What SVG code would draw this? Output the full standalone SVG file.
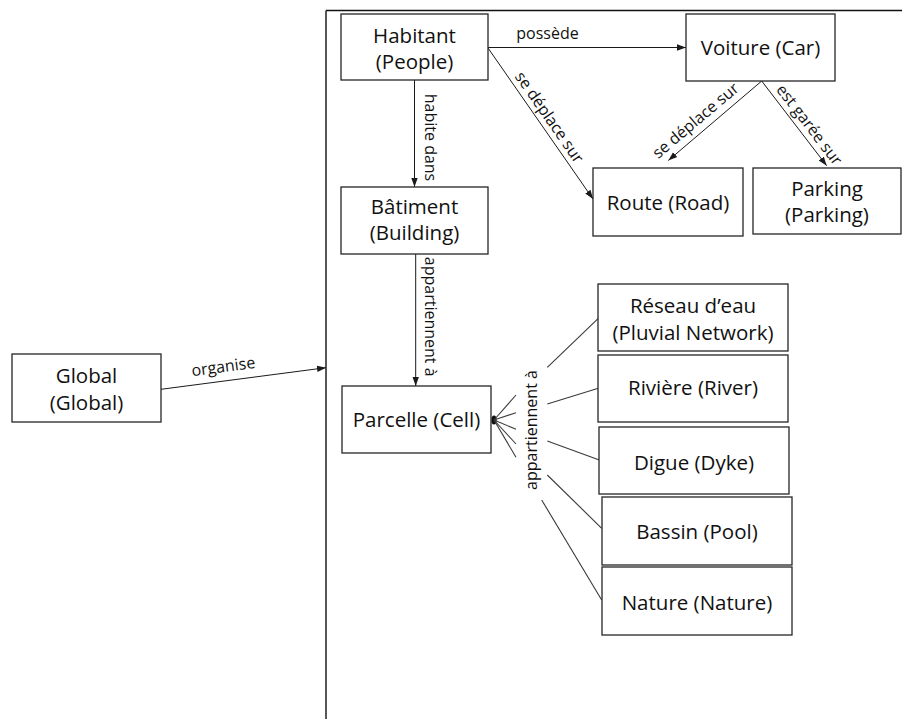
<svg xmlns="http://www.w3.org/2000/svg" width="902" height="719" viewBox="0 0 902 719">
<defs>
<style>
.box{fill:#fff;stroke:#262626;stroke-width:1.3}
.t{font-family:"Open Sans","Liberation Sans",sans-serif;font-size:20.5px;fill:#111;text-anchor:middle}
.l{font-family:"Open Sans","Liberation Sans",sans-serif;font-size:16px;fill:#111;text-anchor:middle}
.c{stroke:#1a1a1a;stroke-width:1;fill:none}
.f{stroke:#3a3a3a;stroke-width:1.1;fill:none}
</style>
<marker id="ah" markerUnits="userSpaceOnUse" markerWidth="10" markerHeight="8" viewBox="0 0 10 8" refX="9" refY="4" orient="auto">
<path d="M0,0.8 L9,4 L0,7.2 Z" fill="#1a1a1a"/>
</marker>
</defs>
<rect width="902" height="719" fill="#fff"/>
<g id="frame">
<line x1="326" y1="10.5" x2="326" y2="719" stroke="#111" stroke-width="1.4"/>
<line x1="326" y1="10.5" x2="902" y2="10.5" stroke="#111" stroke-width="1.4"/>
</g>
<g id="connectors">
<line class="c" x1="488" y1="47.5" x2="686" y2="47.5" marker-end="url(#ah)"/>
<line class="c" x1="414.5" y1="80" x2="414.5" y2="187" marker-end="url(#ah)"/>
<line class="c" x1="488" y1="48" x2="593" y2="199" marker-end="url(#ah)"/>
<line class="c" x1="761.7" y1="81" x2="668.3" y2="160.5" marker-end="url(#ah)"/>
<line class="c" x1="761.7" y1="81" x2="826.7" y2="165.7" marker-end="url(#ah)"/>
<line class="c" x1="415.7" y1="254" x2="415.7" y2="386" marker-end="url(#ah)"/>
<line class="c" x1="161" y1="389.3" x2="326" y2="367.7" marker-end="url(#ah)"/>
<ellipse cx="494" cy="420" rx="2.6" ry="4.5" fill="#111"/>
<line class="f" x1="494" y1="420" x2="516" y2="395"/>
<line class="f" x1="494" y1="420" x2="516" y2="412.7"/>
<line class="f" x1="494" y1="420" x2="516" y2="429.3"/>
<line class="f" x1="494" y1="420" x2="516" y2="444"/>
<line class="f" x1="494" y1="420" x2="516" y2="457.3"/>
<line class="f" x1="547.3" y1="367.3" x2="598.3" y2="318.3"/>
<line class="f" x1="547.3" y1="404" x2="598.3" y2="388.3"/>
<line class="f" x1="547.3" y1="441" x2="599.3" y2="460"/>
<line class="f" x1="547.3" y1="475" x2="601.7" y2="528.3"/>
<line class="f" x1="541.7" y1="500" x2="601.7" y2="600"/>
<text class="l" x="547.5" y="39">possède</text>
<text class="l" transform="translate(425,137.5) rotate(90)">habite dans</text>
<text class="l" transform="translate(424.5,316.7) rotate(90)">appartiennent à</text>
<text class="l" transform="translate(549,117.5) rotate(55.2)" y="5">se déplace sur</text>
<text class="l" transform="translate(695.8,120.8) rotate(-40.2)" y="5">se déplace sur</text>
<text class="l" transform="translate(809,125) rotate(52.5)" y="5">est garée sur</text>
<text class="l" transform="translate(223.3,367) rotate(-7.5)" y="5">organise</text>
<text class="l" transform="translate(537,430) rotate(-90)">appartiennent à</text>
</g>
<g id="habitant"><rect class="box" x="341" y="14" width="147" height="66"/><text class="t"><tspan x="414.5" y="42.5">Habitant</tspan><tspan x="414.5" y="68.8">(People)</tspan></text></g>
<g id="voiture"><rect class="box" x="686" y="14" width="149" height="67"/><text class="t" x="760.5" y="55">Voiture (Car)</text></g>
<g id="batiment"><rect class="box" x="341" y="187" width="147" height="67"/><text class="t"><tspan x="414.5" y="213.5">Bâtiment</tspan><tspan x="414.5" y="240">(Building)</tspan></text></g>
<g id="route"><rect class="box" x="593" y="168" width="150" height="68"/><text class="t" x="668" y="209.5">Route (Road)</text></g>
<g id="parking"><rect class="box" x="753" y="168" width="148" height="66"/><text class="t"><tspan x="827" y="195.8">Parking</tspan><tspan x="827" y="222.3">(Parking)</tspan></text></g>
<g id="parcelle"><rect class="box" x="342" y="386" width="149" height="67"/><text class="t" x="416.5" y="426.7">Parcelle (Cell)</text></g>
<g id="global"><rect class="box" x="12" y="354" width="149" height="68"/><text class="t"><tspan x="86.5" y="382.7">Global</tspan><tspan x="86.5" y="409.5">(Global)</tspan></text></g>
<g id="reseau"><rect class="box" x="598" y="284" width="190" height="67"/><text class="t"><tspan x="693" y="313.3">Réseau d’eau</tspan><tspan x="693" y="340">(Pluvial Network)</tspan></text></g>
<g id="riviere"><rect class="box" x="598" y="355" width="190" height="67"/><text class="t" x="693" y="395">Rivière (River)</text></g>
<g id="digue"><rect class="box" x="599" y="427" width="190" height="67"/><text class="t" x="694" y="470">Digue (Dyke)</text></g>
<g id="bassin"><rect class="box" x="602" y="497" width="190" height="68"/><text class="t" x="697" y="539.3">Bassin (Pool)</text></g>
<g id="nature"><rect class="box" x="602" y="567" width="190" height="68"/><text class="t" x="697" y="610">Nature (Nature)</text></g>
</svg>
